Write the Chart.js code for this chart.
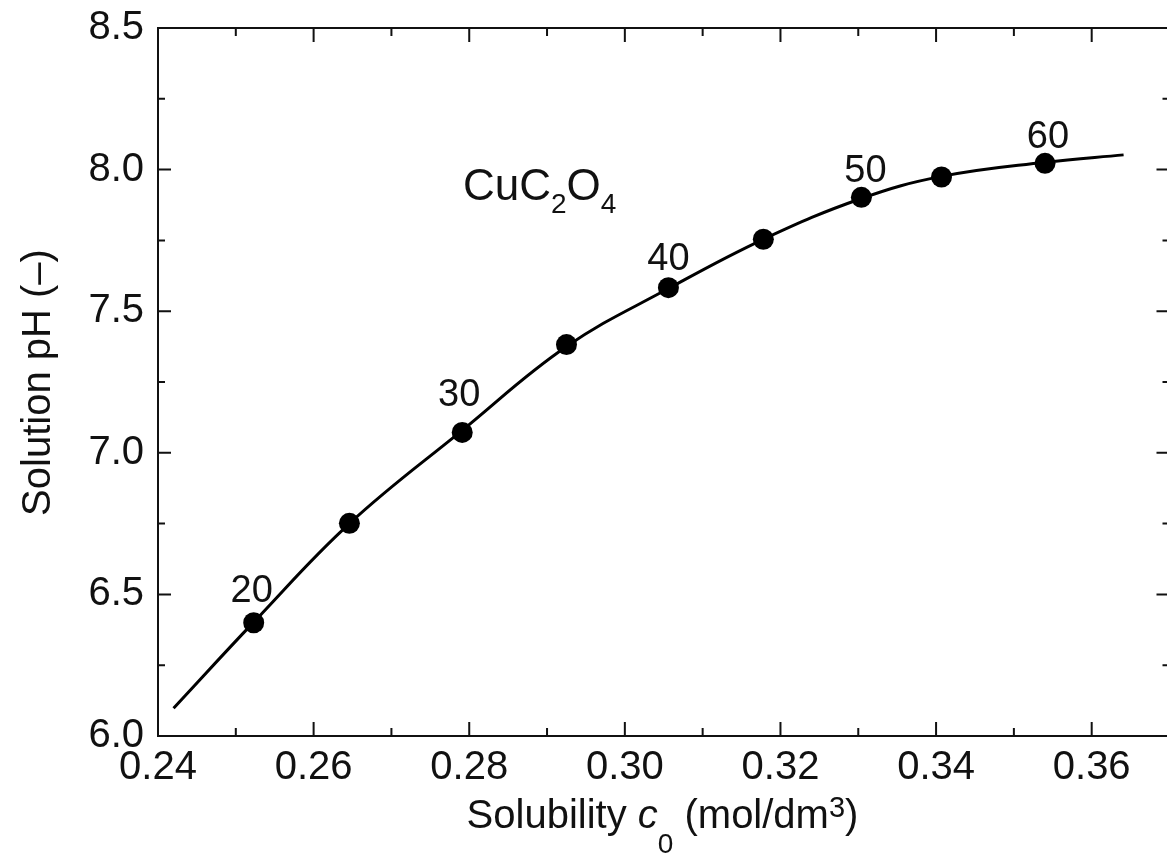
<!DOCTYPE html>
<html><head><meta charset="utf-8">
<script src="https://cdn.jsdelivr.net/npm/chart.js@4.4.0/dist/chart.umd.min.js"></script>
<style>
html,body{margin:0;padding:0;overflow:hidden;background:#fff;}
#wrap{position:relative;width:1180px;height:855px;}
</style></head><body>
<div id="wrap"><canvas id="c" width="1180" height="855"></canvas></div>
<script>
// ---- data ----
const temperatures = ['20', '', '30', '', '40', '', '50', '', '60'];
const solubility   = [0.2523, 0.2646, 0.2791, 0.2925, 0.3056, 0.3178, 0.3304, 0.3407, 0.3540];
const solutionPH   = [6.400, 6.751, 7.072, 7.382, 7.583, 7.754, 7.902, 7.974, 8.022];
// fitted curve
const fitSolubility = [0.2420, 0.2523, 0.2646, 0.2791, 0.2925, 0.3056, 0.3178, 0.3304, 0.3407, 0.3540, 0.3641];
const fitPH         = [6.098, 6.402, 6.750, 7.079, 7.375, 7.580, 7.754, 7.898, 7.976, 8.026, 8.052];
const xTicks      = [0.24, 0.26, 0.28, 0.30, 0.32, 0.34, 0.36];
const xTickLabels = ['0.24', '0.26', '0.28', '0.30', '0.32', '0.34', '0.36'];
const xMinorTicks = [0.25, 0.27, 0.29, 0.31, 0.33, 0.35];
const yTicks      = [6.0, 6.5, 7.0, 7.5, 8.0, 8.5];
const yTickLabels = ['6.0', '6.5', '7.0', '7.5', '8.0', '8.5'];
const yMinorTicks = [6.25, 6.75, 7.25, 7.75, 8.25];
const compoundName = [['Cu', 'main'], ['C', 'main'], ['2', 'sub'], ['O', 'main'], ['4', 'sub']];

// ---- styling / placement (not data) ----
const FONT = '"Liberation Sans", Arial, Helvetica, sans-serif';
const INK = '#111';
const labelShift = [[-2, -21], null, [-3, -26], null, [0, -18], null, [4, -15], null, [3, -15]];

const framePlugin = {
  id: 'frame',
  beforeDatasetsDraw(chart) {
    const {ctx, chartArea: a, scales: {x, y}} = chart;
    ctx.save();
    ctx.strokeStyle = INK;
    ctx.lineWidth = 2;
    ctx.strokeRect(a.left, a.top, a.right - a.left, a.bottom - a.top);
    ctx.beginPath();
    const xt = (vals, len) => vals.forEach(v => {
      const p = x.getPixelForValue(v);
      ctx.moveTo(p, a.bottom); ctx.lineTo(p, a.bottom - len);
      ctx.moveTo(p, a.top); ctx.lineTo(p, a.top + len);
    });
    const yt = (vals, len) => vals.forEach(v => {
      const p = y.getPixelForValue(v);
      ctx.moveTo(a.left, p); ctx.lineTo(a.left + len, p);
      ctx.moveTo(a.right, p); ctx.lineTo(a.right - len, p);
    });
    xt(xTicks, 14); xt(xMinorTicks, 8);
    yt(yTicks, 13); yt(yMinorTicks, 7);
    ctx.stroke();
    ctx.restore();
  }
};

function drawRuns(ctx, runs, cx, baseline, align) {
  let total = 0;
  runs.forEach(r => { ctx.font = r.font; r.w = ctx.measureText(r.t).width; total += r.w; });
  let xpos = align === 'center' ? cx - total / 2 : cx;
  runs.forEach(r => { ctx.font = r.font; ctx.fillText(r.t, xpos, baseline + (r.dy || 0)); xpos += r.w; });
}

const textPlugin = {
  id: 'texts',
  afterDatasetsDraw(chart) {
    const {ctx} = chart;
    ctx.save();
    ctx.fillStyle = INK;
    ctx.textBaseline = 'alphabetic';
    // temperature labels
    const meta = chart.getDatasetMeta(1);
    ctx.font = '38px ' + FONT;
    ctx.textAlign = 'center';
    temperatures.forEach((t, i) => {
      if (!t) return;
      const el = meta.data[i];
      const s = labelShift[i];
      ctx.fillText(t, el.x + s[0], el.y + s[1]);
    });
    ctx.textAlign = 'left';
    // compound name
    drawRuns(ctx, compoundName.map(([t, k]) => k === 'sub'
      ? {t, font: '28px ' + FONT, dy: 13}
      : {t, font: '44px ' + FONT}), 463, 200, 'left');
    // x title
    drawRuns(ctx, [
      {t: 'Solubility ', font: '40px ' + FONT},
      {t: 'c', font: 'italic 40px ' + FONT},
      {t: '0', font: '28px ' + FONT, dy: 25},
      {t: ' (mol/dm', font: '40px ' + FONT},
      {t: '3', font: '29px ' + FONT, dy: -11},
      {t: ')', font: '40px ' + FONT}
    ], 662.5, 828, 'center');
    // y title
    ctx.translate(50, 382.5);
    ctx.rotate(-Math.PI / 2);
    ctx.font = '40px ' + FONT;
    ctx.textAlign = 'center';
    ctx.fillText('Solution pH (\u2013)', 0, 0);
    ctx.restore();
  }
};

new Chart(document.getElementById('c'), {
  type: 'scatter',
  data: {
    datasets: [
      {
        data: fitSolubility.map((v, i) => ({x: v, y: fitPH[i]})),
        showLine: true,
        borderColor: '#000',
        borderWidth: 3,
        pointRadius: 0,
        tension: 0.4
      },
      {
        data: solubility.map((v, i) => ({x: v, y: solutionPH[i]})),
        showLine: false,
        pointRadius: 10.5,
        pointBackgroundColor: '#000',
        pointBorderWidth: 0
      }
    ]
  },
  options: {
    responsive: false,
    animation: false,
    layout: {padding: {top: 28, right: 8, left: 0, bottom: 0}},
    plugins: {legend: {display: false}, tooltip: {enabled: false}},
    scales: {
      x: {
        type: 'linear', min: 0.24, max: 0.37,
        grid: {display: false, drawTicks: false},
        border: {display: false},
        afterBuildTicks: s => { s.ticks = xTicks.map(v => ({value: v})); },
        afterFit: s => { s.height = 119; s.paddingLeft = 0; s.paddingRight = 0; },
        ticks: {
          color: INK, padding: 8,
          font: {family: FONT, size: 40},
          maxRotation: 0, autoSkip: false,
          callback: (v, i) => xTickLabels[i]
        }
      },
      y: {
        type: 'linear', min: 6.0, max: 8.5,
        grid: {display: false, drawTicks: false},
        border: {display: false},
        afterBuildTicks: s => { s.ticks = yTicks.map(v => ({value: v})); },
        afterFit: s => { s.width = 158; s.paddingTop = 0; s.paddingBottom = 0; },
        ticks: {
          color: INK, padding: 14,
          font: {family: FONT, size: 40},
          callback: (v, i) => yTickLabels[i]
        }
      }
    }
  },
  plugins: [framePlugin, textPlugin]
});
</script>
</body></html>
